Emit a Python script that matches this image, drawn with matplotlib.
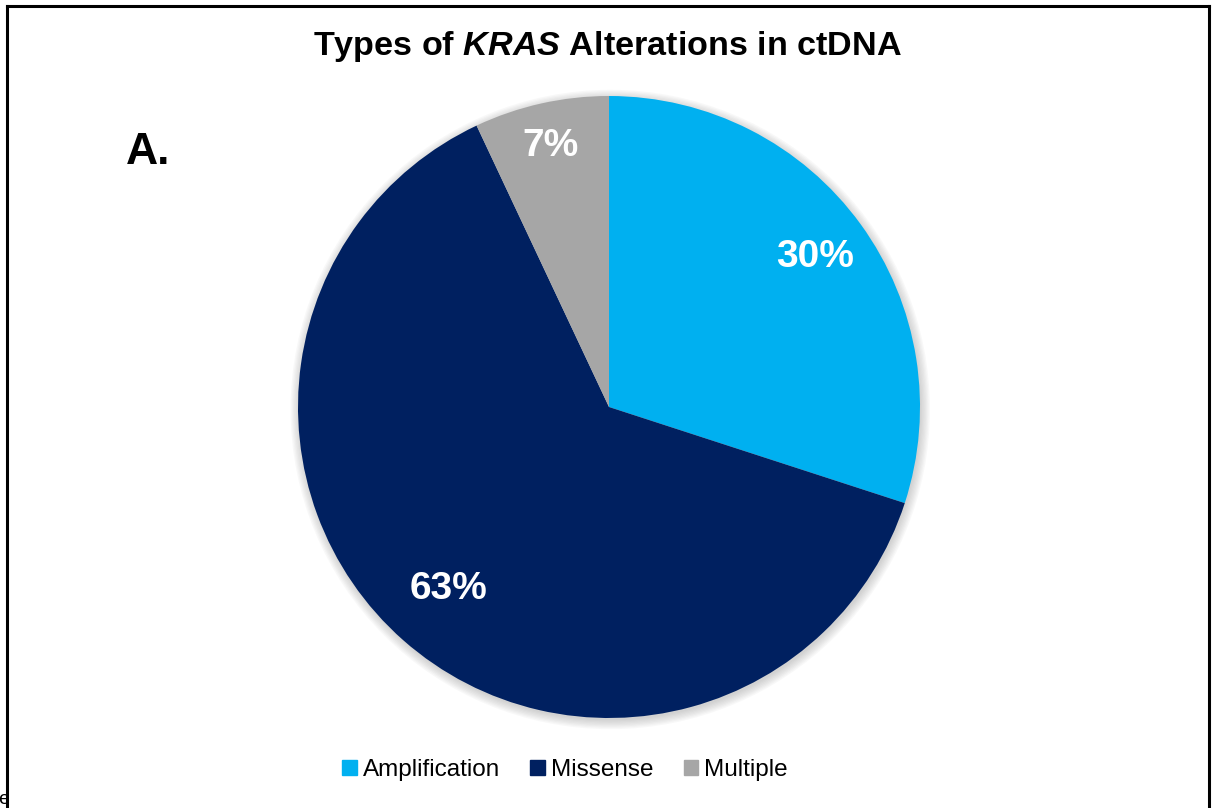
import matplotlib
matplotlib.use("Agg")
import matplotlib.pyplot as plt
from matplotlib.patches import Rectangle, Circle
from matplotlib.lines import Line2D
import numpy as np

plt.rcParams['font.family'] = ['Liberation Sans', 'DejaVu Sans']
plt.rcParams['mathtext.fontset'] = 'custom'
plt.rcParams['mathtext.rm'] = 'Liberation Sans'
plt.rcParams['mathtext.bf'] = 'Liberation Sans:bold'
plt.rcParams['mathtext.it'] = 'Liberation Sans:italic'
plt.rcParams['mathtext.bfit'] = 'Liberation Sans:bold:italic'

categories = ["Amplification", "Missense", "Multiple"]
values = [30, 63, 7]
labels = ["30%", "63%", "7%"]
colors = ["#00B0F0", "#002060", "#A6A6A6"]
label_dist = [0.82, 0.78, 0.86]

W, H = 1215, 808
fig = plt.figure(figsize=(W / 100, H / 100), dpi=100)

# border box
fig.add_artist(Line2D([7 / W, 7 / W], [0, 1 - 6 / H], transform=fig.transFigure, color="black", lw=2.2))
fig.add_artist(Line2D([1209 / W, 1209 / W], [0, 1 - 6 / H], transform=fig.transFigure, color="black", lw=2.2))
fig.add_artist(Line2D([7 / W, 1209 / W], [1 - 6 / H, 1 - 6 / H], transform=fig.transFigure, color="black", lw=2.2))

cx, cy, r = 609, 407, 311
ax = fig.add_axes([(cx - r) / W, (H - cy - r) / H, 2 * r / W, 2 * r / H])

# soft shadow
for k in range(8):
    ax.add_patch(Circle((0.004, -0.008), 1.0 + 0.004 * k, color="#888888", alpha=0.05,
                        lw=0, zorder=0, clip_on=False))

wedges, _ = ax.pie(values, colors=colors, startangle=90, counterclock=False,
                   radius=1.0, wedgeprops=dict(linewidth=0), frame=False)
for w, lab, d in zip(wedges, labels, label_dist):
    ang = np.deg2rad((w.theta1 + w.theta2) / 2)
    ax.text(d * np.cos(ang), d * np.sin(ang), lab, ha="center", va="center",
            color="white", fontsize=28, fontweight="bold")
ax.set_xlim(-1.0, 1.0)
ax.set_ylim(-1.0, 1.0)
ax.set_aspect("equal")
ax.axis("off")

# title with italic KRAS
fig.text(0.5, 1 - 46 / H, r"Types of $\mathbfit{KRAS}$ Alterations in ctDNA",
         ha="center", va="center", fontsize=24.6, fontweight="bold")

fig.text(148 / W, 1 - 152 / H, "A.", ha="center", va="center", fontsize=32, fontweight="bold")

fig.text(-2 / W, 1 - 800 / H, "e", ha="left", va="center", fontsize=14)

handles = [Rectangle((0, 0), 1, 1, color=c) for c in colors]
fig.legend(handles, categories, loc="center", bbox_to_anchor=(565 / W, 1 - 770 / H),
           ncol=3, frameon=False, fontsize=17.5, handlelength=0.6, handleheight=0.6,
           handletextpad=0.25, columnspacing=1.25)

fig.savefig("out.png", dpi=100)
